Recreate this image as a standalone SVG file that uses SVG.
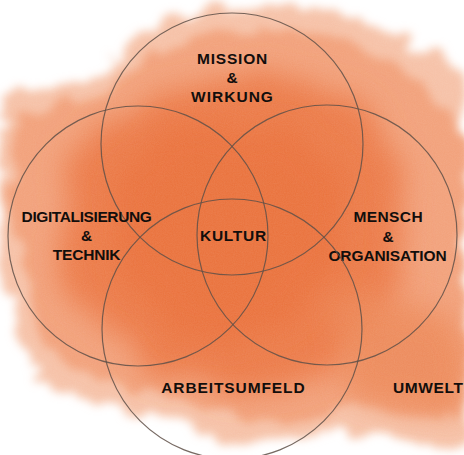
<svg xmlns="http://www.w3.org/2000/svg" width="464" height="455" viewBox="0 0 464 455">
  <defs>
    <filter id="wc" x="-10%" y="-10%" width="120%" height="120%">
      <feTurbulence type="fractalNoise" baseFrequency="0.035" numOctaves="3" seed="4" result="n"/>
      <feDisplacementMap in="SourceGraphic" in2="n" scale="28" xChannelSelector="R" yChannelSelector="G" result="d"/>
      <feGaussianBlur in="d" stdDeviation="5"/>
    </filter>
    <filter id="soft" x="-20%" y="-20%" width="140%" height="140%">
      <feTurbulence type="fractalNoise" baseFrequency="0.02" numOctaves="3" seed="9" result="n"/>
      <feDisplacementMap in="SourceGraphic" in2="n" scale="40" xChannelSelector="R" yChannelSelector="G" result="d"/>
      <feGaussianBlur in="d" stdDeviation="14"/>
    </filter>
    <filter id="grain">
      <feTurbulence type="fractalNoise" baseFrequency="0.9" numOctaves="2" seed="2" result="g"/>
      <feColorMatrix in="g" type="matrix" values="0 0 0 0 1  0 0 0 0 1  0 0 0 0 1  0 0 0 0.25 -0.05"/>
      <feComposite in2="SourceGraphic" operator="in"/>
    </filter>
  </defs>
  <style>
    .c { fill: none; stroke: #5f5048; stroke-width: 1.2; opacity: 0.85; }
    .t { font-family: "Liberation Sans", Arial, sans-serif; font-weight: bold; font-size: 15.5px; fill: #120e0c; text-anchor: middle; }
  </style>
  <rect width="464" height="455" fill="#ffffff"/>
  <g id="watercolor">
    <path filter="url(#wc)" fill="#f6c2a8" d="M0,95 C30,85 80,92 105,72 C120,40 160,16 220,8 C280,0 340,8 395,35 C425,50 450,60 464,75 L464,440 L440,445 C410,440 370,435 335,425 C300,445 250,450 200,432 C150,415 90,402 50,388 C22,372 14,335 18,305 C8,295 0,285 0,272 Z"/>
    <path filter="url(#wc)" fill="#f2a27c" d="M10,120 C40,100 90,110 115,85 C140,55 190,35 240,30 C300,25 350,40 400,70 C440,95 455,120 464,140 L464,420 C430,420 390,415 350,405 C320,420 280,430 230,415 C170,395 110,385 70,365 C40,345 30,315 35,285 C20,260 5,220 10,170 Z"/>
    <path filter="url(#soft)" fill="#ec7d4b" d="M70,150 C100,120 150,95 210,75 C270,60 330,75 370,110 C400,140 410,190 400,250 C395,300 370,350 320,375 C270,395 210,390 160,370 C110,345 80,310 65,270 C55,230 55,180 70,150 Z"/>
    <path filter="url(#soft)" fill="#ea723e" opacity="0.8" d="M120,170 C150,130 200,120 250,125 C300,130 340,160 345,210 C350,260 320,310 270,335 C220,350 170,330 140,295 C115,260 105,210 120,170 Z"/>
    <path filter="url(#soft)" fill="#ed8a5a" opacity="0.85" d="M340,300 C380,290 430,300 464,320 L464,420 C430,425 390,415 360,395 C335,375 325,330 340,300 Z"/>
    <rect width="464" height="455" fill="#ffffff" filter="url(#grain)" opacity="0.4"/>
  </g>
  <g id="connectors"></g>
  <g id="mission"><circle class="c" cx="232" cy="144" r="131"/>
    <text class="t" x="232.5" y="64" letter-spacing="0.8">MISSION</text>
    <text class="t" x="232" y="83">&amp;</text>
    <text class="t" x="232.5" y="102" letter-spacing="1">WIRKUNG</text></g>
  <g id="digitalisierung"><circle class="c" cx="138" cy="236" r="130"/>
    <text class="t" x="86.5" y="222" font-size="14.3" letter-spacing="-0.4">DIGITALISIERUNG</text>
    <text class="t" x="86.5" y="241">&amp;</text>
    <text class="t" x="86.5" y="259.5" font-size="14.3" letter-spacing="-0.2">TECHNIK</text></g>
  <g id="mensch"><circle class="c" cx="327" cy="235" r="130"/>
    <text class="t" x="388.2" y="222" letter-spacing="0.4">MENSCH</text>
    <text class="t" x="388" y="241.5">&amp;</text>
    <text class="t" x="387.5" y="260.5" letter-spacing="-0.1">ORGANISATION</text></g>
  <g id="arbeitsumfeld"><circle class="c" cx="232" cy="329" r="130"/>
    <text class="t" x="233.4" y="393.3" letter-spacing="0.9">ARBEITSUMFELD</text></g>
  <g id="kultur"><text class="t" x="233.4" y="240.7" letter-spacing="0.7">KULTUR</text></g>
  <g id="umwelt"><text class="t" x="393" y="393.3" letter-spacing="0.6" style="text-anchor:start">UMWELT</text></g>
</svg>
